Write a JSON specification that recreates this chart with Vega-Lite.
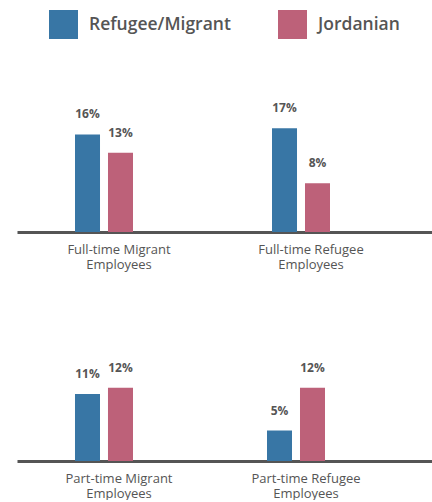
{
  "$schema": "https://vega.github.io/schema/vega-lite/v6.json",
  "padding": {"left": 17, "top": 10, "right": 0, "bottom": 0},
  "background": "white",
  "data": {
    "values": [
      {"panel": "Full-time", "category": "Full-time Migrant Employees", "group": "Refugee/Migrant", "value": 0.16},
      {"panel": "Full-time", "category": "Full-time Migrant Employees", "group": "Jordanian", "value": 0.13},
      {"panel": "Full-time", "category": "Full-time Refugee Employees", "group": "Refugee/Migrant", "value": 0.17},
      {"panel": "Full-time", "category": "Full-time Refugee Employees", "group": "Jordanian", "value": 0.08},
      {"panel": "Part-time", "category": "Part-time Migrant Employees", "group": "Refugee/Migrant", "value": 0.11},
      {"panel": "Part-time", "category": "Part-time Migrant Employees", "group": "Jordanian", "value": 0.12},
      {"panel": "Part-time", "category": "Part-time Refugee Employees", "group": "Refugee/Migrant", "value": 0.05},
      {"panel": "Part-time", "category": "Part-time Refugee Employees", "group": "Jordanian", "value": 0.12}
    ]
  },
  "spacing": 107,
  "bounds": "flush",
  "resolve": {"scale": {"x": "independent", "xOffset": "independent"}},
  "vconcat": [
    {
      "width": 415,
      "height": 122,
      "transform": [{"filter": "datum.panel == 'Full-time'"}],
      "encoding": {
        "x": {
          "field": "category", "type": "nominal", "sort": null,
          "scale": {"paddingInner": 0.3706, "paddingOuter": 0.2386, "align": 0.266},
          "axis": {"labelOffset": {"condition": {"test": "indexof(datum.value, 'Migrant') >= 0", "value": 15}, "value": 10}}
        },
        "xOffset": {
          "field": "group", "type": "nominal",
          "scale": {"domain": ["Refugee/Migrant", "Jordanian"], "paddingInner": 0.242, "paddingOuter": 1}
        },
        "y": {"field": "value", "type": "quantitative", "scale": {"domain": [0, 0.2]}, "axis": null}
      },
      "layer": [
        {
          "mark": {"type": "bar"},
          "encoding": {
            "color": {
              "field": "group", "type": "nominal",
              "scale": {"domain": ["Refugee/Migrant", "Jordanian"], "range": ["#3876a5", "#bd6179"]},
              "legend": {
                "title": null, "orient": "none", "legendX": 32, "legendY": -100,
                "direction": "horizontal", "symbolType": "square", "symbolSize": 841,
                "symbolStrokeWidth": 0, "symbolOpacity": 1,
                "labelFontSize": 17.5, "labelFont": "Open Sans", "labelFontWeight": 600,
                "labelColor": "#555555", "labelOffset": 11, "columnPadding": 47
              }
            }
          }
        },
        {
          "mark": {"type": "text", "dy": -16, "baseline": "alphabetic", "font": "Open Sans", "fontWeight": "bold", "fontSize": 12, "color": "#555555"},
          "encoding": {"text": {"field": "value", "type": "quantitative", "format": ".0%"}}
        }
      ]
    },
    {
      "width": 415,
      "height": 122,
      "transform": [{"filter": "datum.panel == 'Part-time'"}],
      "encoding": {
        "x": {
          "field": "category", "type": "nominal", "sort": null,
          "scale": {"paddingInner": 0.3542, "paddingOuter": 0.2578, "align": 0.2525},
          "axis": {"labelOffset": {"condition": {"test": "indexof(datum.value, 'Migrant') >= 0", "value": 15}, "value": 10}}
        },
        "xOffset": {
          "field": "group", "type": "nominal",
          "scale": {"domain": ["Refugee/Migrant", "Jordanian"], "paddingInner": 0.242, "paddingOuter": 1}
        },
        "y": {"field": "value", "type": "quantitative", "scale": {"domain": [0, 0.2]}, "axis": null}
      },
      "layer": [
        {
          "mark": {"type": "bar"},
          "encoding": {
            "color": {
              "field": "group", "type": "nominal",
              "scale": {"domain": ["Refugee/Migrant", "Jordanian"], "range": ["#3876a5", "#bd6179"]}
            }
          }
        },
        {
          "mark": {"type": "text", "dy": -16, "baseline": "alphabetic", "font": "Open Sans", "fontWeight": "bold", "fontSize": 12, "color": "#555555"},
          "encoding": {"text": {"field": "value", "type": "quantitative", "format": ".0%"}}
        }
      ]
    }
  ],
  "config": {
    "view": {"stroke": null},
    "axisX": {
      "title": null, "ticks": false, "grid": false, "labelAngle": 0,
      "domain": true, "domainColor": "#555555", "domainWidth": 3,
      "labelPadding": 11, "labelFont": "Open Sans", "labelFontSize": 13, "labelFontWeight": 500,
      "labelColor": "#555555", "labelLineHeight": 15,
      "labelExpr": "[replace(datum.label, ' Employees', ''), 'Employees']"
    }
  }
}
